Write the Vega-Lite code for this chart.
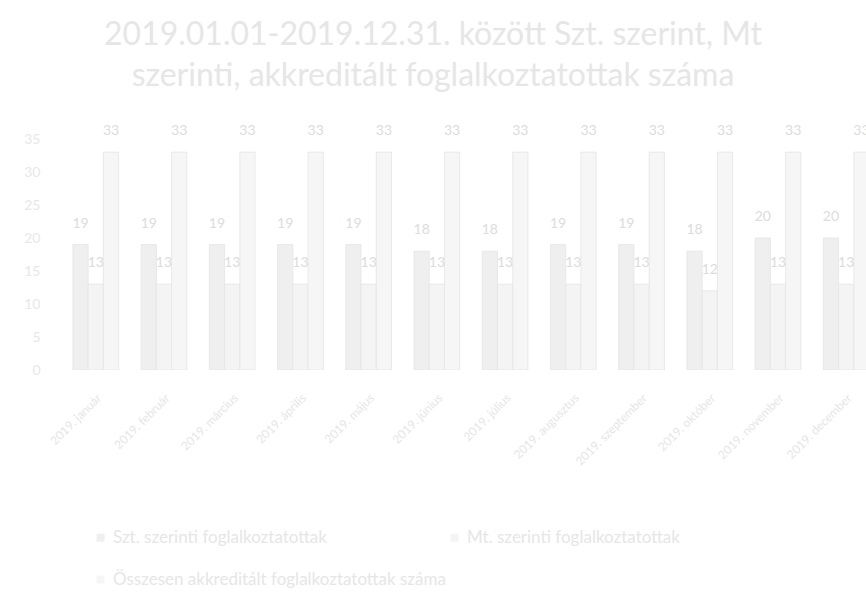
{
  "$schema": "https://vega.github.io/schema/vega-lite/v6.json",
  "description": "Szt. és Mt. szerinti, akkreditált foglalkoztatottak száma havonta, 2019",
  "width": 804,
  "height": 231,
  "autosize": {"type": "none"},
  "padding": {"left": 62, "top": 139, "right": 0, "bottom": 228},
  "background": "#ffffff",
  "config": {
    "view": {"stroke": null},
    "font": "Lato"
  },
  "title": {
    "text": [
      "2019.01.01-2019.12.31. között Szt. szerint, Mt",
      "szerinti, akkreditált foglalkoztatottak száma"
    ],
    "fontSize": 32,
    "fontWeight": "normal",
    "color": "#e6e6e6",
    "lineHeight": 41,
    "anchor": "middle",
    "frame": "group",
    "dx": -31,
    "offset": 31
  },
  "data": {
    "values": [
      {"honap": "2019. január", "sorozat": "Szt. szerinti foglalkoztatottak", "letszam": 19},
      {"honap": "2019. január", "sorozat": "Mt. szerinti foglalkoztatottak", "letszam": 13},
      {"honap": "2019. január", "sorozat": "Összesen akkreditált foglalkoztatottak száma", "letszam": 33},
      {"honap": "2019. február", "sorozat": "Szt. szerinti foglalkoztatottak", "letszam": 19},
      {"honap": "2019. február", "sorozat": "Mt. szerinti foglalkoztatottak", "letszam": 13},
      {"honap": "2019. február", "sorozat": "Összesen akkreditált foglalkoztatottak száma", "letszam": 33},
      {"honap": "2019. március", "sorozat": "Szt. szerinti foglalkoztatottak", "letszam": 19},
      {"honap": "2019. március", "sorozat": "Mt. szerinti foglalkoztatottak", "letszam": 13},
      {"honap": "2019. március", "sorozat": "Összesen akkreditált foglalkoztatottak száma", "letszam": 33},
      {"honap": "2019. április", "sorozat": "Szt. szerinti foglalkoztatottak", "letszam": 19},
      {"honap": "2019. április", "sorozat": "Mt. szerinti foglalkoztatottak", "letszam": 13},
      {"honap": "2019. április", "sorozat": "Összesen akkreditált foglalkoztatottak száma", "letszam": 33},
      {"honap": "2019. május", "sorozat": "Szt. szerinti foglalkoztatottak", "letszam": 19},
      {"honap": "2019. május", "sorozat": "Mt. szerinti foglalkoztatottak", "letszam": 13},
      {"honap": "2019. május", "sorozat": "Összesen akkreditált foglalkoztatottak száma", "letszam": 33},
      {"honap": "2019. június", "sorozat": "Szt. szerinti foglalkoztatottak", "letszam": 18},
      {"honap": "2019. június", "sorozat": "Mt. szerinti foglalkoztatottak", "letszam": 13},
      {"honap": "2019. június", "sorozat": "Összesen akkreditált foglalkoztatottak száma", "letszam": 33},
      {"honap": "2019. július", "sorozat": "Szt. szerinti foglalkoztatottak", "letszam": 18},
      {"honap": "2019. július", "sorozat": "Mt. szerinti foglalkoztatottak", "letszam": 13},
      {"honap": "2019. július", "sorozat": "Összesen akkreditált foglalkoztatottak száma", "letszam": 33},
      {"honap": "2019. augusztus", "sorozat": "Szt. szerinti foglalkoztatottak", "letszam": 19},
      {"honap": "2019. augusztus", "sorozat": "Mt. szerinti foglalkoztatottak", "letszam": 13},
      {"honap": "2019. augusztus", "sorozat": "Összesen akkreditált foglalkoztatottak száma", "letszam": 33},
      {"honap": "2019. szeptember", "sorozat": "Szt. szerinti foglalkoztatottak", "letszam": 19},
      {"honap": "2019. szeptember", "sorozat": "Mt. szerinti foglalkoztatottak", "letszam": 13},
      {"honap": "2019. szeptember", "sorozat": "Összesen akkreditált foglalkoztatottak száma", "letszam": 33},
      {"honap": "2019. október", "sorozat": "Szt. szerinti foglalkoztatottak", "letszam": 18},
      {"honap": "2019. október", "sorozat": "Mt. szerinti foglalkoztatottak", "letszam": 12},
      {"honap": "2019. október", "sorozat": "Összesen akkreditált foglalkoztatottak száma", "letszam": 33},
      {"honap": "2019. november", "sorozat": "Szt. szerinti foglalkoztatottak", "letszam": 20},
      {"honap": "2019. november", "sorozat": "Mt. szerinti foglalkoztatottak", "letszam": 13},
      {"honap": "2019. november", "sorozat": "Összesen akkreditált foglalkoztatottak száma", "letszam": 33},
      {"honap": "2019. december", "sorozat": "Szt. szerinti foglalkoztatottak", "letszam": 20},
      {"honap": "2019. december", "sorozat": "Mt. szerinti foglalkoztatottak", "letszam": 13},
      {"honap": "2019. december", "sorozat": "Összesen akkreditált foglalkoztatottak száma", "letszam": 33}
    ]
  },
  "encoding": {
    "x": {
      "field": "honap",
      "type": "nominal",
      "sort": null,
      "scale": {"paddingInner": 0.33, "paddingOuter": 0.16, "range": [0, 818]},
      "axis": {
        "title": null,
        "labelAngle": -45,
        "labelFontSize": 12,
        "labelColor": "#e6e6e6",
        "labelPadding": 22,
        "ticks": false,
        "domain": false
      }
    },
    "xOffset": {
      "field": "sorozat",
      "type": "nominal",
      "sort": [
        "Szt. szerinti foglalkoztatottak",
        "Mt. szerinti foglalkoztatottak",
        "Összesen akkreditált foglalkoztatottak száma"
      ]
    },
    "y": {
      "field": "letszam",
      "type": "quantitative",
      "scale": {"domain": [0, 35]},
      "axis": {
        "title": null,
        "values": [0, 5, 10, 15, 20, 25, 30, 35],
        "labelFontSize": 14,
        "labelColor": "#e8e8e8",
        "labelPadding": 22,
        "ticks": false,
        "domain": false,
        "grid": false
      }
    }
  },
  "layer": [
    {
      "mark": {"type": "bar", "clip": true, "stroke": "#e4e4e4", "strokeWidth": 0.8},
      "encoding": {
        "color": {
          "field": "sorozat",
          "type": "nominal",
          "sort": [
            "Szt. szerinti foglalkoztatottak",
            "Mt. szerinti foglalkoztatottak",
            "Összesen akkreditált foglalkoztatottak száma"
          ],
          "scale": {"range": ["#efefef", "#f4f4f4", "#f6f6f6"]},
          "legend": {
            "title": null,
            "orient": "none",
            "legendX": 30,
            "legendY": 390,
            "direction": "horizontal",
            "columns": 2,
            "columnPadding": 0,
            "rowPadding": 24,
            "symbolType": "square",
            "symbolSize": 64,
            "symbolStrokeWidth": 0,
            "symbolFillColor": "#e8e8e8",
            "labelFontSize": 17,
            "labelColor": "#e6e6e6",
            "labelLimit": 400
          }
        }
      }
    },
    {
      "mark": {"type": "text", "baseline": "bottom", "dy": -14, "fontSize": 14, "color": "#dcdcdc", "clip": false},
      "encoding": {
        "text": {"field": "letszam", "type": "quantitative"}
      }
    }
  ]
}
